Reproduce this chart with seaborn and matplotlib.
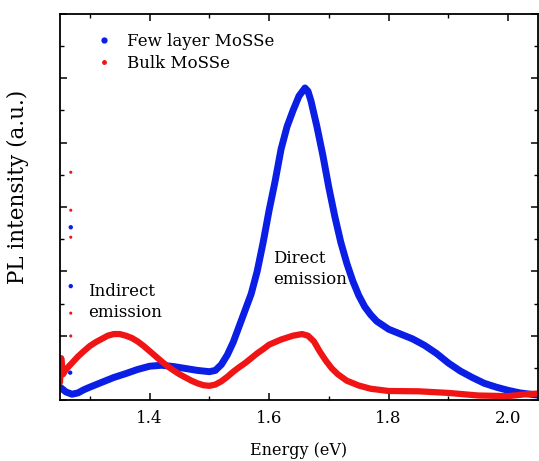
import matplotlib
matplotlib.use("Agg")
import matplotlib.pyplot as plt
import seaborn as sns
import pandas as pd
from matplotlib.lines import Line2D
from matplotlib.ticker import MultipleLocator

# Few layer MoSSe (blue)
few_x = [1.250, 1.260, 1.270, 1.280, 1.290, 1.300, 1.320, 1.340, 1.360, 1.380,
         1.400, 1.420, 1.440, 1.460, 1.480, 1.500, 1.510, 1.520, 1.530, 1.540,
         1.550, 1.560, 1.570, 1.580, 1.590, 1.600, 1.610, 1.620, 1.630, 1.640,
         1.650, 1.660, 1.665, 1.670, 1.680, 1.690, 1.700, 1.710, 1.720, 1.730,
         1.740, 1.750, 1.760, 1.770, 1.780, 1.800, 1.820, 1.840, 1.860, 1.880,
         1.900, 1.920, 1.940, 1.960, 1.980, 2.000, 2.020, 2.050]
few_y = [0.40, 0.25, 0.18, 0.22, 0.32, 0.40, 0.55, 0.70, 0.82, 0.95,
         1.05, 1.08, 1.04, 0.98, 0.92, 0.88, 0.92, 1.10, 1.40, 1.80,
         2.30, 2.80, 3.30, 4.00, 4.90, 5.90, 6.80, 7.80, 8.50, 9.00,
         9.45, 9.70, 9.60, 9.30, 8.50, 7.60, 6.60, 5.70, 4.90, 4.25,
         3.70, 3.25, 2.90, 2.65, 2.45, 2.20, 2.05, 1.90, 1.70, 1.45,
         1.15, 0.90, 0.70, 0.52, 0.40, 0.30, 0.22, 0.15]

# Bulk MoSSe (red)
bulk_x = [1.250, 1.252, 1.255, 1.260, 1.270, 1.280, 1.290, 1.300, 1.310, 1.320,
          1.330, 1.340, 1.350, 1.360, 1.370, 1.380, 1.390, 1.400, 1.410, 1.420,
          1.430, 1.440, 1.450, 1.460, 1.470, 1.480, 1.490, 1.500, 1.510, 1.520,
          1.530, 1.540, 1.550, 1.560, 1.570, 1.580, 1.590, 1.600, 1.620, 1.640,
          1.655, 1.665, 1.675, 1.685, 1.695, 1.705, 1.715, 1.730, 1.750, 1.770,
          1.800, 1.850, 1.900, 1.950, 2.000, 2.030, 2.050]
bulk_y = [0.55, 1.30, 0.80, 0.95, 1.15, 1.35, 1.52, 1.68, 1.80, 1.90,
          2.00, 2.05, 2.05, 2.00, 1.93, 1.82, 1.68, 1.52, 1.36, 1.20,
          1.05, 0.92, 0.80, 0.70, 0.60, 0.52, 0.46, 0.44, 0.48, 0.58,
          0.72, 0.88, 1.02, 1.15, 1.30, 1.45, 1.58, 1.72, 1.88, 2.00,
          2.05, 2.00, 1.82, 1.50, 1.22, 0.98, 0.80, 0.60, 0.45, 0.35,
          0.28, 0.27, 0.22, 0.14, 0.12, 0.18, 0.20]

# stray points near the low-energy edge
few_out_x = [1.268, 1.268, 1.267]
few_out_y = [5.37, 3.54, 0.85]
bulk_out_x = [1.268, 1.268, 1.268, 1.268, 1.268]
bulk_out_y = [7.08, 5.90, 5.06, 2.70, 1.99]

labels = ["Few layer MoSSe", "Bulk MoSSe"]
colors = ["#0a1ee6", "#f01414"]

sns.set_theme(style="ticks")
plt.rcParams["font.family"] = ["DejaVu Serif"]
plt.rcParams["text.color"] = "black"
plt.rcParams["axes.labelcolor"] = "black"
plt.rcParams["xtick.color"] = "black"
plt.rcParams["ytick.color"] = "black"

fig = plt.figure(figsize=(5.39, 4.61), dpi=100)
ax = fig.add_axes([60 / 539, 1 - 400 / 461, 478 / 539, 386 / 461])

few = pd.DataFrame({"x": few_x, "y": few_y})
bulk = pd.DataFrame({"x": bulk_x, "y": bulk_y})
sns.lineplot(data=few, x="x", y="y", ax=ax, color=colors[0], lw=5.0,
             sort=False, estimator=None)
sns.lineplot(data=bulk, x="x", y="y", ax=ax, color=colors[1], lw=4.5,
             sort=False, estimator=None)
sns.scatterplot(x=few_out_x, y=few_out_y, ax=ax, color=colors[0], s=10,
                edgecolor="none")
sns.scatterplot(x=bulk_out_x, y=bulk_out_y, ax=ax, color=colors[1], s=5,
                edgecolor="none")

ax.set_xlim(1.25, 2.05)
ax.set_ylim(0, 12)
ax.xaxis.set_major_locator(MultipleLocator(0.2))
ax.xaxis.set_minor_locator(MultipleLocator(0.1))
ax.yaxis.set_major_locator(MultipleLocator(2))
ax.yaxis.set_minor_locator(MultipleLocator(1))
ax.tick_params(which="both", direction="in", top=True, right=True,
               color="black")
ax.tick_params(which="major", length=5, width=1.1, labelsize=12, pad=7)
ax.tick_params(which="minor", length=3, width=1.0)
ax.tick_params(axis="y", which="both", labelleft=False)
for s in ax.spines.values():
    s.set_color("black")
    s.set_linewidth(1.3)

ax.set_xlabel("Energy (eV)", fontsize=11.5, labelpad=11)
ax.set_ylabel("PL intensity (a.u.)", fontsize=15.5)
ax.yaxis.set_label_coords(-0.065, 0.552)

ax.text(1.297, 3.64, "Indirect\nemission", fontsize=12, va="top", ha="left",
        linespacing=1.3)
ax.text(1.606, 4.66, "Direct\nemission", fontsize=12, va="top", ha="left",
        linespacing=1.3)

handles = [Line2D([], [], ls="none", marker="o", markersize=3.5,
                  color=colors[0]),
           Line2D([], [], ls="none", marker="o", markersize=2.5,
                  color=colors[1])]
ax.legend(handles, labels, loc="upper left", frameon=False, fontsize=12,
          bbox_to_anchor=(0.04, 0.99), handletextpad=0.8, labelspacing=0.3,
          handlelength=1.2)

fig.savefig("out.png", dpi=100)
